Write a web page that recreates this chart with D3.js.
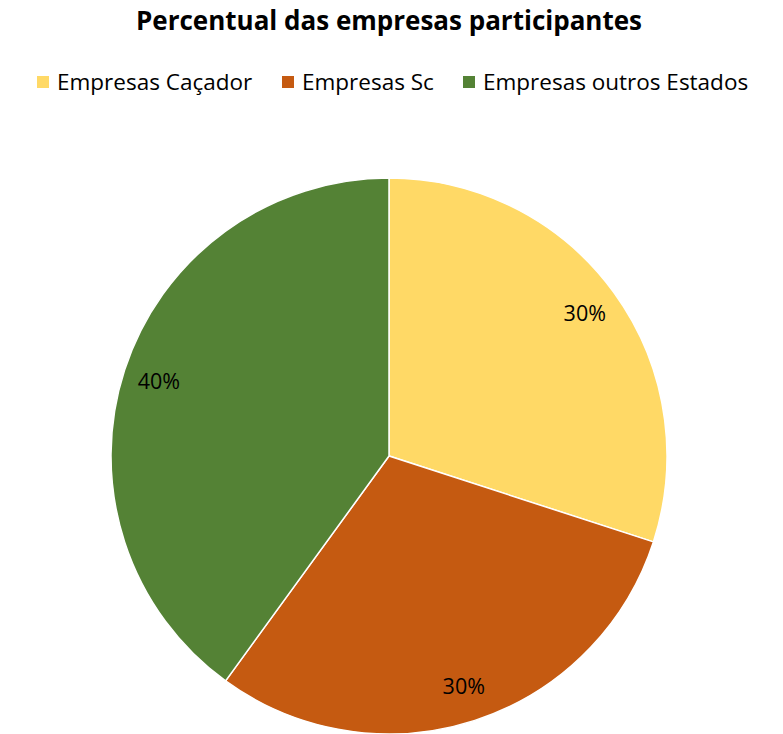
<!DOCTYPE html>
<html>
<head>
<meta charset="utf-8">
<script src="https://cdn.jsdelivr.net/npm/d3@7"></script>
<style>
  body { margin: 0; background: #fff; }
  svg text { font-family: "Open Sans", "Noto Sans", sans-serif; fill: #000; }
</style>
</head>
<body>
<svg id="chart" width="783" height="734"></svg>
<script>
var categories = ["Empresas Caçador", "Empresas Sc", "Empresas outros Estados"];
var values = [30, 30, 40];
var colors = ["#FFD966", "#C55A11", "#548235"];

var width = 783, height = 734;
var svg = d3.select("#chart");

// title
svg.append("text")
    .attr("x", 389)
    .attr("y", 30)
    .attr("text-anchor", "middle")
    .style("font-size", "26px")
    .style("font-weight", "bold")
    .text("Percentual das empresas participantes");

// legend
var legendX = [37, 282, 463];
var legend = svg.append("g").attr("class", "legend");
categories.forEach(function(c, i) {
    var g = legend.append("g").attr("transform", "translate(" + legendX[i] + ",76)");
    g.append("rect")
        .attr("width", 12)
        .attr("height", 12)
        .attr("fill", colors[i]);
    g.append("text")
        .attr("x", 20)
        .attr("y", 14)
        .style("font-size", "22.5px")
        .text(c);
});

// pie
var cx = 389, cy = 456, radius = 278;
var color = d3.scaleOrdinal().domain(categories).range(colors);

var pie = d3.pie().sort(null).value(function(d) { return d.value; });
var data = categories.map(function(c, i) { return {name: c, value: values[i]}; });

var arc = d3.arc().innerRadius(0).outerRadius(radius);
var labelArc = d3.arc().innerRadius(242).outerRadius(242);

var pieG = svg.append("g").attr("transform", "translate(" + cx + "," + cy + ")");

pieG.selectAll("path")
    .data(pie(data))
    .enter().append("path")
    .attr("d", arc)
    .attr("fill", function(d) { return color(d.data.name); })
    .attr("stroke", "#fff")
    .attr("stroke-width", 1.5);

var total = d3.sum(values);
pieG.selectAll("text.lbl")
    .data(pie(data))
    .enter().append("text")
    .attr("class", "lbl")
    .attr("transform", function(d) { return "translate(" + labelArc.centroid(d) + ")"; })
    .attr("text-anchor", "middle")
    .attr("dy", "0.35em")
    .style("font-size", "21.5px")
    .text(function(d) { return Math.round(d.data.value / total * 100) + "%"; });
</script>
</body>
</html>
